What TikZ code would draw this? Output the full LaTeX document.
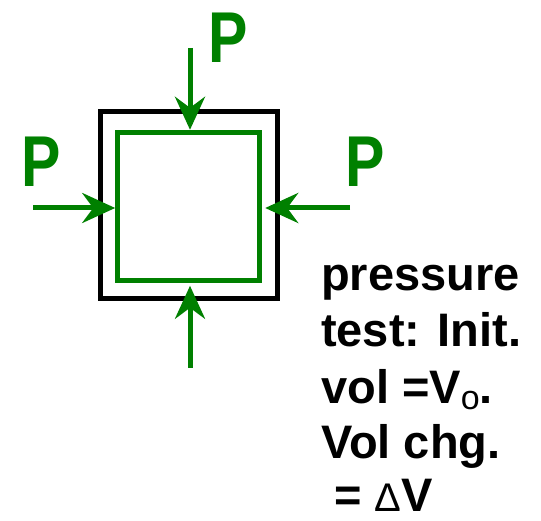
\documentclass[tikz,border=0pt]{standalone}
\usepackage{fontspec}
\setmainfont{Liberation Sans}
\usepackage{xcolor}
\definecolor{cForce}{HTML}{008000}
\definecolor{cWall}{HTML}{000000}
\usetikzlibrary{arrows.meta,calc}
\tikzset{
  box-wall/.style={draw=cWall,line width=5pt,minimum width=177pt,
    minimum height=187pt,inner sep=0pt},
  box-fluid/.style={draw=cForce,line width=5pt,minimum width=142pt,
    minimum height=148pt,inner sep=0pt},
  arrow-force/.style={-{Stealth[length=33pt,width=30pt,inset=11pt]},
    line width=5pt,draw=cForce},
  label-force/.style={text=cForce,inner sep=0pt,anchor=base,
    font=\fontsize{72}{72}\selectfont\bfseries},
  label-note/.style={inner sep=0pt,anchor=base west,
    font=\fontsize{47}{56}\selectfont\bfseries},
}

\begin{document}
\begin{tikzpicture}[x=1pt,y=-1pt]
  \useasboundingbox (0,0) rectangle (541,521);
  \node[box-wall] (wall) at (189,205.5) {};
  \node[box-fluid] (fluid) at (188.7,206.3) {};
  % loads
  \coordinate (top) at (190,48);
  \coordinate (bot) at (190,368);
  \coordinate (lft) at (33,208);
  \coordinate (rgt) at (350,208);
  \draw[arrow-force] (top) -- (top |- fluid.north);
  \draw[arrow-force,shorten >=3pt] (bot) -- (bot |- fluid.south);
  \draw[arrow-force] (lft) -- (lft -| fluid.west);
  \draw[arrow-force,shorten >=3pt] (rgt) -- (rgt -| fluid.east);
  \node[label-force] (ptop) at (228,63) {\scalebox{0.82}[1]{P}};
  \node[label-force] (plft) at (41,187) {\scalebox{0.82}[1]{P}};
  \node[label-force] (prgt) at (365,187) {\scalebox{0.82}[1]{P}};
  % note
  \node[label-note] (note1) at (321,291) {pressure};
  \node[label-note] (note2) at (321,347) {test: Init.};
  \node[label-note] (note3) at (321,403) {vol =V{\fontsize{34}{34}\selectfont\mdseries\raisebox{-6pt}{o}}.};
  \node[label-note] (note4) at (321,458) {Vol chg.};
  \node[label-note] (note5) at (321,511) {\ = {\fontsize{40}{40}\selectfont\mdseries\symbol{"0394}}V};
\end{tikzpicture}
\end{document}
